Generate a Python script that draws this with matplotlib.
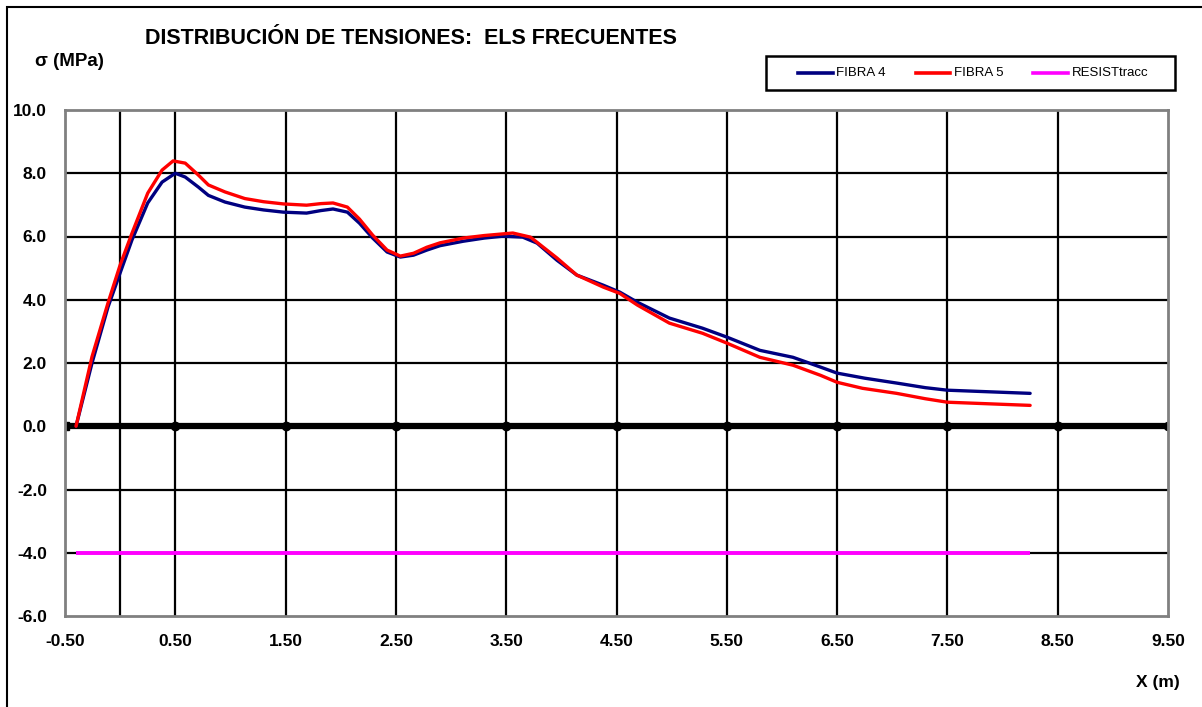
import matplotlib
matplotlib.use("Agg")
import matplotlib.pyplot as plt
from matplotlib.patches import Rectangle
from matplotlib.lines import Line2D

plt.rcParams['font.family'] = ['Liberation Sans', 'DejaVu Sans']

# Stress along the element (MPa) for each fibre
x_f4 = [-0.4, -0.255, -0.11, 0.0, 0.107, 0.25, 0.38, 0.5, 0.59, 0.71, 0.8, 0.95, 1.13,
        1.3, 1.48, 1.69, 1.82, 1.93, 2.06, 2.17, 2.29, 2.42, 2.54, 2.66, 2.78, 2.9, 3.11,
        3.3, 3.47, 3.65, 3.78, 3.96, 4.14, 4.38, 4.53, 4.69, 4.98, 5.28, 5.5, 5.8, 6.1,
        6.35, 6.5, 6.75, 7.05, 7.3, 7.5, 7.8, 8.25]
s_f4 = [0.0, 2.0, 3.77, 4.85, 5.89, 7.06, 7.72, 8.0, 7.88, 7.56, 7.3, 7.09, 6.93,
        6.84, 6.77, 6.74, 6.82, 6.87, 6.77, 6.42, 5.95, 5.51, 5.35, 5.41, 5.57, 5.71, 5.85,
        5.95, 6.01, 5.98, 5.79, 5.25, 4.78, 4.46, 4.24, 3.92, 3.42, 3.1, 2.82, 2.4, 2.18,
        1.87, 1.68, 1.52, 1.36, 1.22, 1.14, 1.1, 1.04]

x_f5 = [-0.4, -0.255, -0.11, 0.0, 0.107, 0.25, 0.38, 0.48, 0.59, 0.71, 0.8, 0.95, 1.13,
        1.3, 1.48, 1.69, 1.82, 1.93, 2.06, 2.17, 2.29, 2.42, 2.54, 2.66, 2.78, 2.9, 3.11,
        3.3, 3.56, 3.72, 3.96, 4.14, 4.38, 4.53, 4.69, 4.98, 5.28, 5.5, 5.8, 6.1, 6.35,
        6.5, 6.73, 7.04, 7.3, 7.5, 7.8, 8.25]
s_f5 = [0.0, 2.2, 3.9, 5.1, 6.1, 7.37, 8.1, 8.39, 8.32, 7.94, 7.63, 7.41, 7.2,
        7.1, 7.03, 6.99, 7.04, 7.06, 6.93, 6.55, 6.04, 5.57, 5.38, 5.47, 5.66, 5.8, 5.95,
        6.03, 6.11, 5.98, 5.32, 4.78, 4.4, 4.2, 3.83, 3.26, 2.94, 2.63, 2.18, 1.93, 1.61,
        1.39, 1.2, 1.04, 0.87, 0.76, 0.72, 0.66]

x_resist = [-0.4, 8.25]
s_resist = [-4.0, -4.0]

x_ticks = [-0.5, 0.5, 1.5, 2.5, 3.5, 4.5, 5.5, 6.5, 7.5, 8.5, 9.5]
y_ticks = [-6.0, -4.0, -2.0, 0.0, 2.0, 4.0, 6.0, 8.0, 10.0]

W, H = 1202, 707
fig = plt.figure(figsize=(W / 100, H / 100), dpi=100)


def fx(px):
    return px / W


def fy(py):
    return 1 - py / H


# outer frame of the chart
fig.patches.append(Rectangle((fx(7), -0.05), 1.2, fy(7) + 0.05,
                             transform=fig.transFigure, fill=False,
                             edgecolor='black', linewidth=1.5))

ax = fig.add_axes([fx(65), fy(616), (1168 - 65) / W, (616 - 110) / H])
ax.set_xlim(-0.5, 9.5)
ax.set_ylim(-6, 10)

for s in ax.spines.values():
    s.set_edgecolor('#808080')
    s.set_linewidth(2)

# grid
for yv in [-4, -2, 2, 4, 6, 8]:
    ax.axhline(yv, color='black', linewidth=1.6, zorder=1)
for xv in [0.0] + x_ticks[1:-1]:
    ax.axvline(xv, color='black', linewidth=1.6, zorder=1)

# zero axis with tick knobs
ax.plot([-0.5, 9.5], [0, 0], color='black', linewidth=4.5, zorder=2, solid_capstyle='butt')
ax.plot(x_ticks[1:], [0] * len(x_ticks[1:]), linestyle='none', marker='o',
        markersize=6, color='black', zorder=2)
ax.plot([-0.5], [0], linestyle='none', marker='s', markersize=6, color='black', zorder=2)

line_kw = dict(solid_joinstyle='round', solid_capstyle='round')
l4, = ax.plot(x_f4, s_f4, color='#000080', linewidth=2.4, zorder=4, label='FIBRA 4', **line_kw)
l5, = ax.plot(x_f5, s_f5, color='#FF0000', linewidth=2.4, zorder=5, label='FIBRA 5', **line_kw)
lr, = ax.plot(x_resist, s_resist, color='#FF00FF', linewidth=2.8, zorder=3,
              label='RESISTtracc', solid_capstyle='butt')

ax.set_xticks(x_ticks)
ax.set_xticklabels([f"{v:.2f}" for v in x_ticks])
ax.set_yticks(y_ticks)
ax.set_yticklabels([f"{v:.1f}" for v in y_ticks])
ax.tick_params(axis='both', length=0, labelsize=12.5)
ax.tick_params(axis='x', pad=13)
ax.tick_params(axis='y', pad=13)
for t in ax.get_xticklabels() + ax.get_yticklabels():
    t.set_fontweight('bold')

fig.text(fx(145), fy(39), 'DISTRIBUCIÓN DE TENSIONES:  ELS FRECUENTES',
         fontsize=15.5, fontweight='bold', ha='left', va='center')
fig.text(fx(35), fy(61), 'σ (MPa)', fontsize=13.5, fontweight='bold',
         ha='left', va='center')
fig.text(fx(1180), fy(683), 'X (m)', fontsize=12.5, fontweight='bold',
         ha='right', va='center')

# legend box
fig.patches.append(Rectangle((fx(766), fy(90)), (1175 - 766) / W, 34 / H,
                             transform=fig.transFigure, facecolor='white',
                             edgecolor='black', linewidth=1.8, zorder=10))
for line, x0, x1, tx in [(l4, 798, 833, 836), (l5, 916, 950, 954), (lr, 1033, 1068, 1072)]:
    fig.lines.append(Line2D([fx(x0), fx(x1)], [fy(73), fy(73)], transform=fig.transFigure,
                            color=line.get_color(), linewidth=2.6, zorder=11))
    fig.text(fx(tx), fy(73.5), line.get_label(), fontsize=9.5, ha='left', va='center',
             zorder=12)

fig.savefig('out.png', dpi=100)
